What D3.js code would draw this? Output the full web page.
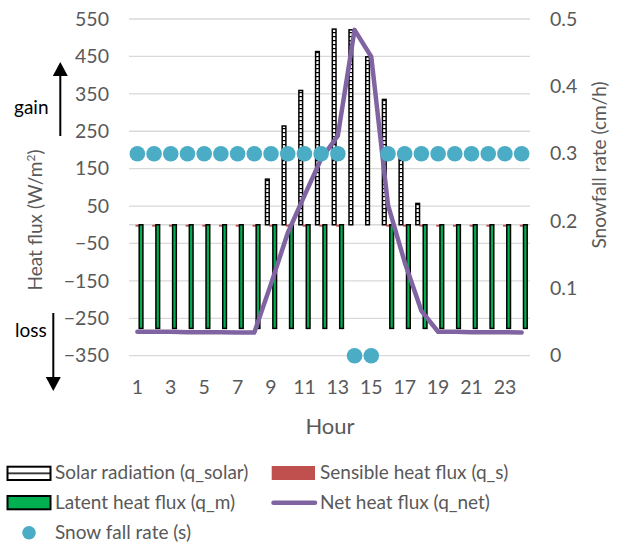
<!DOCTYPE html>
<meta charset="utf-8">
<html>
<head>
<title>Heat flux</title>
<style>
  body { margin: 0; background: #fff; }
  svg { display: block; font-family: 'Lato', sans-serif; }
  .tick text { fill: #595959; font-size: 19.5px; }
  .lg { fill: #595959; font-size: 19px; }
</style>
</head>
<body>
<div id="chart"></div>
<script src="https://d3js.org/d3.v7.min.js"></script>
<script>

// data
var hours = [1,2,3,4,5,6,7,8,9,10,11,12,13,14,15,16,17,18,19,20,21,22,23,24];
var solar = [0,0,0,0,0,0,0,0,122,264,359,463,523,521,449,335,176,57,0,0,0,0,0,0];
var sensible = [-5,-5,-5,-5,-5,-5,-5,-5,-5,-5,-5,-5,-5,0,0,-5,-5,-5,-5,-5,-5,-5,-5,-5];
var latent = [-277,-277,-277,-277,-277,-277,-277,-277,-277,-277,-277,-277,-277,0,0,
              -277,-277,-277,-277,-277,-277,-277,-277,-277];
var net = [-286,-286,-286,-287,-287,-287,-288,-288,-158,-22,78,176,238,521,449,53,-100,-230,
           -286,-286,-287,-287,-287,-288];
var snow = [0.3,0.3,0.3,0.3,0.3,0.3,0.3,0.3,0.3,0.3,0.3,0.3,0.3,0,0,0.3,0.3,0.3,0.3,0.3,0.3,0.3,0.3,0.3];

var leftTicks = [-350,-250,-150,-50,50,150,250,350,450,550];
var rightTicks = [0,0.1,0.2,0.3,0.4,0.5];
var hourTicks = [1,3,5,7,9,11,13,15,17,19,21,23];

var width = 619, height = 546;
var plotLeft = 129, plotRight = 530, plotTop = 19, plotBottom = 355.7;

var svg = d3.select("#chart").append("svg")
    .attr("width", width)
    .attr("height", height);

var x = d3.scaleBand().domain(hours).range([plotLeft, plotRight]).padding(0);
var yL = d3.scaleLinear().domain([-350, 550]).range([plotBottom, plotTop]);
var yR = d3.scaleLinear().domain([0, 0.5]).range([plotBottom, plotTop]);
var bw = 3.7;
function cx(h) { return x(h) + x.bandwidth() / 2; }

// pattern for solar bars
var defs = svg.append("defs");
var pat = defs.append("pattern")
    .attr("id", "hstripe")
    .attr("patternUnits", "userSpaceOnUse")
    .attr("width", 4).attr("height", 4);
pat.append("rect").attr("width", 4).attr("height", 4).attr("fill", "#fff");
pat.append("rect").attr("y", 0).attr("width", 4).attr("height", 1.2).attr("fill", "#000");

var legPat = defs.append("pattern")
    .attr("id", "legstripe")
    .attr("patternUnits", "userSpaceOnUse")
    .attr("width", 6).attr("height", 13.3).attr("y", 466.7);
legPat.append("rect").attr("width", 6).attr("height", 13.3).attr("fill", "#fff");
legPat.append("rect").attr("y", 5.9).attr("width", 6).attr("height", 1.5).attr("fill", "#000");

// gridlines
svg.append("g").selectAll("line")
  .data(leftTicks.concat([0])).enter()
  .append("line")
    .attr("x1", plotLeft).attr("x2", plotRight)
    .attr("y1", function(d){ return yL(d); })
    .attr("y2", function(d){ return yL(d); })
    .attr("stroke", "#d9d9d9")
    .attr("stroke-width", 1.3);

// axes
var axL = svg.append("g")
    .attr("transform", "translate(" + plotLeft + ",0)")
    .call(d3.axisLeft(yL).tickValues(leftTicks).tickSize(0).tickPadding(20));
var axR = svg.append("g")
    .attr("transform", "translate(" + plotRight + ",0)")
    .call(d3.axisRight(yR).tickValues(rightTicks).tickSize(0).tickPadding(20)
      .tickFormat(function(d){ return String(d); }));
var axB = svg.append("g")
    .attr("transform", "translate(0," + (plotBottom + 12) + ")")
    .call(d3.axisBottom(x).tickValues(hourTicks).tickSize(0).tickPadding(12));
[axL, axR, axB].forEach(function(a){
  a.select(".domain").remove();
  a.selectAll("text").style("font-family", "'Lato', sans-serif");
});

// solar bars
svg.append("g").selectAll("rect")
  .data(hours.filter(function(h, i){ return solar[i] > 0; })).enter()
  .append("rect")
    .attr("x", function(h){ return cx(h) - bw * 1.5; })
    .attr("width", bw)
    .attr("y", function(h){ return yL(solar[h - 1]); })
    .attr("height", function(h){ return yL(0) - yL(solar[h - 1]); })
    .attr("fill", "url(#hstripe)")
    .attr("stroke", "#000")
    .attr("stroke-width", 1.5);

// sensible bars
svg.append("g").selectAll("rect")
  .data(hours.filter(function(h, i){ return sensible[i] < 0; })).enter()
  .append("rect")
    .attr("x", function(h){ return cx(h) - bw * 0.5; })
    .attr("width", bw)
    .attr("y", yL(0))
    .attr("height", function(h){ return yL(sensible[h - 1]) - yL(0); })
    .attr("fill", "#c0504d");

// latent bars
svg.append("g").selectAll("rect")
  .data(hours.filter(function(h, i){ return latent[i] < 0; })).enter()
  .append("rect")
    .attr("x", function(h){ return cx(h) + bw * 0.5; })
    .attr("width", bw)
    .attr("y", yL(0))
    .attr("height", function(h){ return yL(latent[h - 1]) - yL(0); })
    .attr("fill", "#00b050")
    .attr("stroke", "#000")
    .attr("stroke-width", 1.5);

// net line
var line = d3.line()
    .x(function(h){ return cx(h); })
    .y(function(h){ return yL(net[h - 1]); });
svg.append("path")
    .datum(hours)
    .attr("d", line)
    .attr("fill", "none")
    .attr("stroke", "#8064a2")
    .attr("stroke-width", 4.5)
    .attr("stroke-linejoin", "round")
    .attr("stroke-linecap", "round");

// snowfall dots
svg.append("g").selectAll("circle")
  .data(hours).enter()
  .append("circle")
    .attr("cx", function(h){ return cx(h); })
    .attr("cy", function(h){ return yR(snow[h - 1]); })
    .attr("r", 7.8)
    .attr("fill", "#4bacc6");

// axis titles
var tl = svg.append("text")
    .attr("transform", "translate(42,220) rotate(-90)")
    .attr("text-anchor", "middle")
    .attr("fill", "#595959")
    .style("font-size", "19px");
tl.append("tspan").text("Heat flux (W/m");
tl.append("tspan").attr("dy", -7).style("font-size", "12px").text("2");
tl.append("tspan").attr("dy", 7).text(")");

svg.append("text")
    .attr("transform", "translate(606,165) rotate(-90)")
    .attr("text-anchor", "middle")
    .attr("fill", "#595959")
    .style("font-size", "19px")
    .text("Snowfall rate (cm/h)");

svg.append("text")
    .attr("x", 330).attr("y", 434)
    .attr("text-anchor", "middle")
    .attr("fill", "#595959")
    .style("font-size", "22px")
    .text("Hour");

// gain / loss arrows
function arrow(xp, y1, y2) {
  var dir = y2 < y1 ? 1 : -1;
  svg.append("line")
    .attr("x1", xp).attr("x2", xp)
    .attr("y1", y1).attr("y2", y2 + dir * 12)
    .attr("stroke", "#000").attr("stroke-width", 2);
  svg.append("path")
    .attr("d", "M" + (xp - 7.5) + "," + (y2 + dir * 14) + "L" + xp + "," + y2 +
               "L" + (xp + 7.5) + "," + (y2 + dir * 14) + "Z")
    .attr("fill", "#000");
}
arrow(60.3, 136, 62);
arrow(53.3, 313, 391);
svg.append("text").attr("x", 14).attr("y", 114).attr("fill", "#000")
    .style("font-size", "19px").text("gain");
svg.append("text").attr("x", 15).attr("y", 337).attr("fill", "#000")
    .style("font-size", "19px").text("loss");

// legend
var lg = svg.append("g");
lg.append("rect").attr("x", 7.5).attr("y", 466.7).attr("width", 43).attr("height", 13.3)
    .attr("fill", "url(#legstripe)").attr("stroke", "#000").attr("stroke-width", 2);
lg.append("text").attr("class", "lg").attr("x", 55).attr("y", 479).text("Solar radiation (q_solar)");
lg.append("rect").attr("x", 271.7).attr("y", 466).attr("width", 43.3).attr("height", 14)
    .attr("fill", "#c0504d");
lg.append("text").attr("class", "lg").attr("x", 320).attr("y", 479).text("Sensible heat flux (q_s)");
lg.append("rect").attr("x", 7.5).attr("y", 496).attr("width", 43).attr("height", 13.3)
    .attr("fill", "#00b050").attr("stroke", "#000").attr("stroke-width", 2);
lg.append("text").attr("class", "lg").attr("x", 55).attr("y", 509).text("Latent heat flux (q_m)");
lg.append("line").attr("x1", 273.5).attr("x2", 315).attr("y1", 502.7).attr("y2", 502.7)
    .attr("stroke", "#8064a2").attr("stroke-width", 4.5).attr("stroke-linecap", "round");
lg.append("text").attr("class", "lg").attr("x", 320).attr("y", 509).text("Net heat flux (q_net)");
lg.append("circle").attr("cx", 29).attr("cy", 532.7).attr("r", 6.8).attr("fill", "#4bacc6");
lg.append("text").attr("class", "lg").attr("x", 55).attr("y", 539).text("Snow fall rate (s)");

</script>
</body>
</html>
